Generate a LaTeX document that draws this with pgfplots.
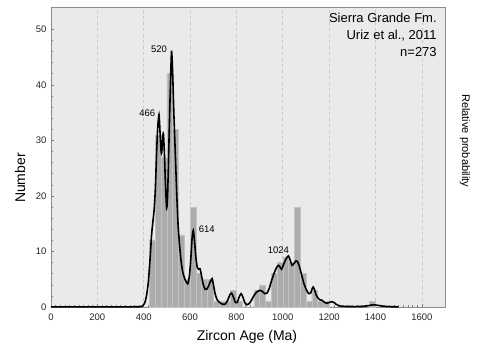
\documentclass[border=0pt]{standalone}
\usepackage{fontspec}
\setmainfont{Liberation Sans}
\usepackage{pgfplots}
\pgfplotsset{compat=1.18}
\definecolor{bgc}{RGB}{233,234,236}
\definecolor{bordc}{RGB}{140,140,140}
\definecolor{gridc}{RGB}{200,200,202}
\definecolor{barc}{RGB}{172,172,172}
\definecolor{barline}{RGB}{195,195,195}
\begin{document}
\begin{tikzpicture}[x=1pt,y=1pt]
\path[use as bounding box] (-51,-38) rectangle (428,307);
\begin{axis}[at={(0,0)}, anchor=south west, scale only axis,
  width=394pt, height=300pt,
  xmin=0, xmax=1700, ymin=0, ymax=54,
  axis background/.style={fill=bgc},
  axis line style={draw=bordc, line width=0.8pt},
  xtick={0,200,...,1600}, ytick={0,10,...,50},
  minor x tick num=9, minor y tick num=4,
  xtick pos=left, ytick pos=left, tick align=inside,
  major tick length=3pt, minor tick length=2pt,
  tick style={draw=gray, line width=0.5pt},
  xmajorgrids, grid style={dashed, gridc, line width=0.6pt},
  ticklabel style={font=\fontsize{9.5}{11}\selectfont, text=black!85},
  xticklabel style={yshift=-3pt},
  yticklabel style={xshift=-1pt},
  /pgf/number format/assume math mode=true,
  /pgf/number format/1000 sep={},
  clip=false,
]
\addplot[ybar interval, fill=barc, draw=barline, line width=0.4pt] coordinates {
(425,12)(450,31)(475,27)(500,42)(525,32)(550,13)(575,5)(600,18)(625,6)
(650,5)(675,5)(700,1)(725,1)(750,1)(775,3)(800,1)(825,0)(850,0)(875,3)
(900,4)(925,1)(950,6)(975,8)(1000,9)(1025,8)(1050,18)(1075,6)(1100,1)
(1125,3)(1150,1)(1175,1)(1200,0)};
\addplot[ybar interval, fill=barc, draw=barline, line width=0.4pt] coordinates {
(1375,1)(1400,0)};
\addplot[black, line width=1.6pt, smooth, tension=0.4] coordinates {
(0,0.03)(100,0.03)(200,0.03)(300,0.03)(380,0.05)(395,0.2)(405,0.8)(412,2)
(420,4.5)(428,9)(434,13)(440,15.5)(445,17.5)(450,21)(455,27)(460,32)(466,34.6)
(471,31)(475,28)(478,27.8)(482,30.5)(485,31.2)(489,28)(494,22)(499,17.8)
(503,20)(508,28)(514,38)(520,46)(525,42)(530,35)(536,28)(542,21)(548,15)
(555,11)(562,8)(570,6)(580,4.8)(590,4.2)(597,5.5)(603,8.5)(609,12.5)(614,13.8)
(619,12)(625,9)(631,7.2)(637,6.8)(643,6.9)(650,5.5)(657,4)(665,3.2)(672,3.2)
(680,3.8)(688,4.6)(695,5.1)(700,4.2)(708,2.4)(717,1.3)(728,0.8)(740,0.5)
(751,0.5)(762,1.2)(772,2.2)(779,2.5)(787,1.8)(796,0.8)(803,0.8)(812,1.8)
(820,2.4)(828,1.8)(836,0.8)(845,0.4)(855,0.6)(866,1.3)(878,2.2)(890,2.8)
(902,3.0)(912,2.8)(922,2.4)(932,2.5)(942,3.4)(952,4.8)(962,6.0)(972,7.0)
(981,7.5)(988,7.2)(995,6.8)(1003,7.6)(1012,8.5)(1024,9.2)(1033,8.3)(1040,7.5)
(1048,7.8)(1057,8.3)(1063,8.2)(1070,7.5)(1077,6.5)(1085,5.2)(1093,4)(1103,3)
(1112,2.4)(1120,2.5)(1127,3.3)(1132,3.6)(1138,3)(1144,2.2)(1152,1.6)(1160,1.3)
(1170,1.2)(1180,0.8)(1190,0.7)(1200,0.8)(1210,0.95)(1220,0.85)(1230,0.5)
(1242,0.25)(1260,0.12)(1300,0.08)(1340,0.1)(1370,0.25)(1390,0.4)(1410,0.3)
(1440,0.12)(1470,0.05)(1500,0.03)};
\node[font=\fontsize{9.5}{10}\selectfont] at (axis cs:466,46.4) {520};
\node[font=\fontsize{9.5}{10}\selectfont] at (axis cs:415,34.8) {466};
\node[font=\fontsize{9.5}{10}\selectfont] at (axis cs:672,14.0) {614};
\node[font=\fontsize{9.5}{10}\selectfont] at (axis cs:981,10.3) {1024};
\node[anchor=north east, align=right, inner sep=0pt,
  font=\fontsize{13}{17}\selectfont] at (axis cs:1665,52.9)
  {Sierra Grande Fm.\\Uriz et al., 2011\\n=273};
\end{axis}
\node[rotate=90, font=\fontsize{14}{16}\selectfont] at (-31,129) {Number};
\node[rotate=-90, font=\fontsize{11}{13}\selectfont] at (414,166.3) {Relative probability};
\node[font=\fontsize{14}{16}\selectfont] at (196,-30) {Zircon Age (Ma)};
\end{tikzpicture}
\end{document}
